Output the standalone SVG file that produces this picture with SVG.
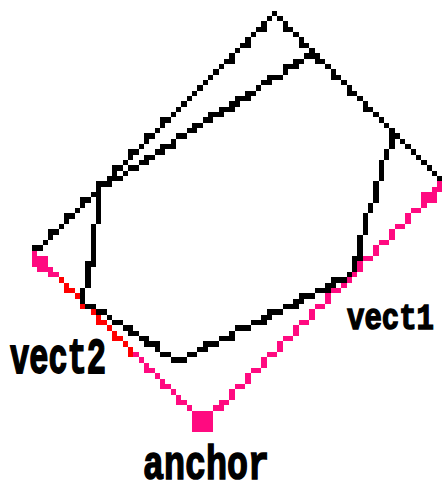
<svg xmlns="http://www.w3.org/2000/svg" width="442" height="483" viewBox="0 0 442 483">
<style>
.px{fill:none;stroke-width:1;shape-rendering:crispEdges}
.k{stroke:#000}.p{stroke:#ff0a80}.r{stroke:#ff0000}
text{font-family:"Liberation Mono","Courier New",monospace;font-weight:bold;fill:#000;stroke:#000;stroke-width:1.2}
</style>
<rect width="442" height="483" fill="#fff"/>
<g id="connectors" transform="scale(5.3333)">
<path id="vect1-line" fill="#ff0a80" shape-rendering="crispEdges" d="M40 76h2v1h-2zM41 75h2v1h-2zM43 73h1v2h-1zM44 72h2v1h-2zM46 70h1v2h-1zM47 69h2v1h-2zM49 67h1v2h-1zM50 66h2v1h-2zM52 64h1v2h-1zM53 63h2v1h-2zM55 61h1v2h-1zM56 60h2v1h-2zM58 58h1v2h-1zM59 57h2v1h-2zM61 55h1v2h-1zM62 54h2v1h-2zM64 53h1v1h-1zM65 52h1v1h-1zM66 51h1v1h-1zM67 49h1v2h-1zM68 48h2v1h-2zM70 46h1v2h-1zM71 45h2v1h-2zM73 43h1v2h-1zM74 42h2v1h-2zM76 40h1v2h-1zM77 39h2v1h-2zM79 38h1v1h-1zM79 36h3v2h-3zM81 35h2v1h-2zM82 34h1v1h-1z"/>
<path id="vect2-line-end" class="px p" d="M6 47.5h1M6 48.5h3M6 49.5h3M7 50.5h3M9 51.5h2M25 66.5h1M26 67.5h1M27 68.5h1M27 69.5h2M29 70.5h1M30 71.5h1M30 72.5h2M32 73.5h1M33 74.5h1M33 75.5h2M35 76.5h1"/>
<path id="vect2-line" class="px r" d="M11 52.5h1M12 53.5h1M12 54.5h2M14 55.5h1M15 56.5h1M15 57.5h1M17 58.5h1M18 59.5h1M18 60.5h2M20 61.5h1M21 62.5h1M21 63.5h2M23 64.5h1M24 65.5h1M24 66.5h1"/>
<path id="outer" class="px k" d="M6 46.5h2M8 45.5h1M9 44.5h1M9 43.5h2M11 42.5h1M12 41.5h1M12 40.5h2M14 39.5h1M15 38.5h1M15 37.5h2M17 36.5h2M18 35.5h1M18 34.5h2M20 33.5h1M21 32.5h1M21 31.5h2M23 30.5h1M24 29.5h1M24 28.5h2M26 27.5h1M27 26.5h1M27 25.5h2M29 24.5h1M30 23.5h1M30 22.5h2M32 21.5h1M33 20.5h1M34 19.5h1M35 18.5h1M36 17.5h1M37 16.5h1M38 15.5h1M39 14.5h1M40 13.5h1M41 12.5h1M42 11.5h2M43 10.5h1M44 9.5h1M45 8.5h2M46 7.5h1M47 6.5h1M48 5.5h2M49 4.5h1M50 3.5h1M51 2.5h1M52 3.5h1M53 4.5h1M53 5.5h2M55 6.5h1M56 7.5h1M56 8.5h2M58 9.5h1M59 10.5h1M59 11.5h2M61 12.5h1M62 13.5h1M62 14.5h2M64 15.5h1M65 16.5h1M65 17.5h2M67 18.5h1M68 19.5h1M68 20.5h2M70 21.5h1M71 22.5h1M72 23.5h1M73 24.5h1M73 25.5h2M75 26.5h1M76 27.5h1M77 28.5h1M78 29.5h1M79 30.5h1M80 31.5h1M81 32.5h1M82 33.5h1"/>
<path id="inner" class="px k" d="M18 34.5h3M20 33.5h3M21 32.5h1M23 32.5h1M24 31.5h2M26 30.5h2M27 29.5h2M29 28.5h2M30 27.5h3M32 26.5h1M33 25.5h2M35 24.5h2M36 23.5h2M38 22.5h2M39 21.5h3M41 20.5h3M43 19.5h2M44 18.5h3M46 17.5h2M48 16.5h1M49 15.5h2M50 14.5h3M53 13.5h1M53 12.5h3M55 11.5h2M57 10.5h3M18.5 36v6M17.5 42v8M16 49.5h1M16.5 50v4M15.5 54v3M16 57.5h2M18 58.5h2M20 59.5h1M21 60.5h2M23 61.5h2M24 62.5h2M26 63.5h2M27 64.5h3M29 65.5h1M30 66.5h2M32 67.5h3M35 66.5h2M37 65.5h2M38 64.5h3M41 63.5h3M43 62.5h1M44 61.5h3M47 60.5h3M49 59.5h2M50 58.5h3M53 57.5h3M55 56.5h2M56 55.5h3M59 54.5h3M61 53.5h2M62 52.5h3M65 51.5h1M66.5 48v3M66 48.5h2M67.5 44v4M68.5 40v4M69.5 38v2M70.5 34v4M71.5 30v4M72.5 28v2M73.5 24v4"/>
</g>
<g id="anchor">
<rect x="192" y="411" width="21.3" height="21.3" fill="#ff0a80" shape-rendering="crispEdges"/>
<text transform="translate(143 479) scale(1 1.38)" font-size="35">anchor</text>
</g>
<g id="vect1">
<text transform="translate(347 329) scale(1 1.3)" font-size="29">vect1</text>
</g>
<g id="vect2">
<text transform="translate(10 373) scale(1 1.55)" font-size="32">vect2</text>
</g>
</svg>
